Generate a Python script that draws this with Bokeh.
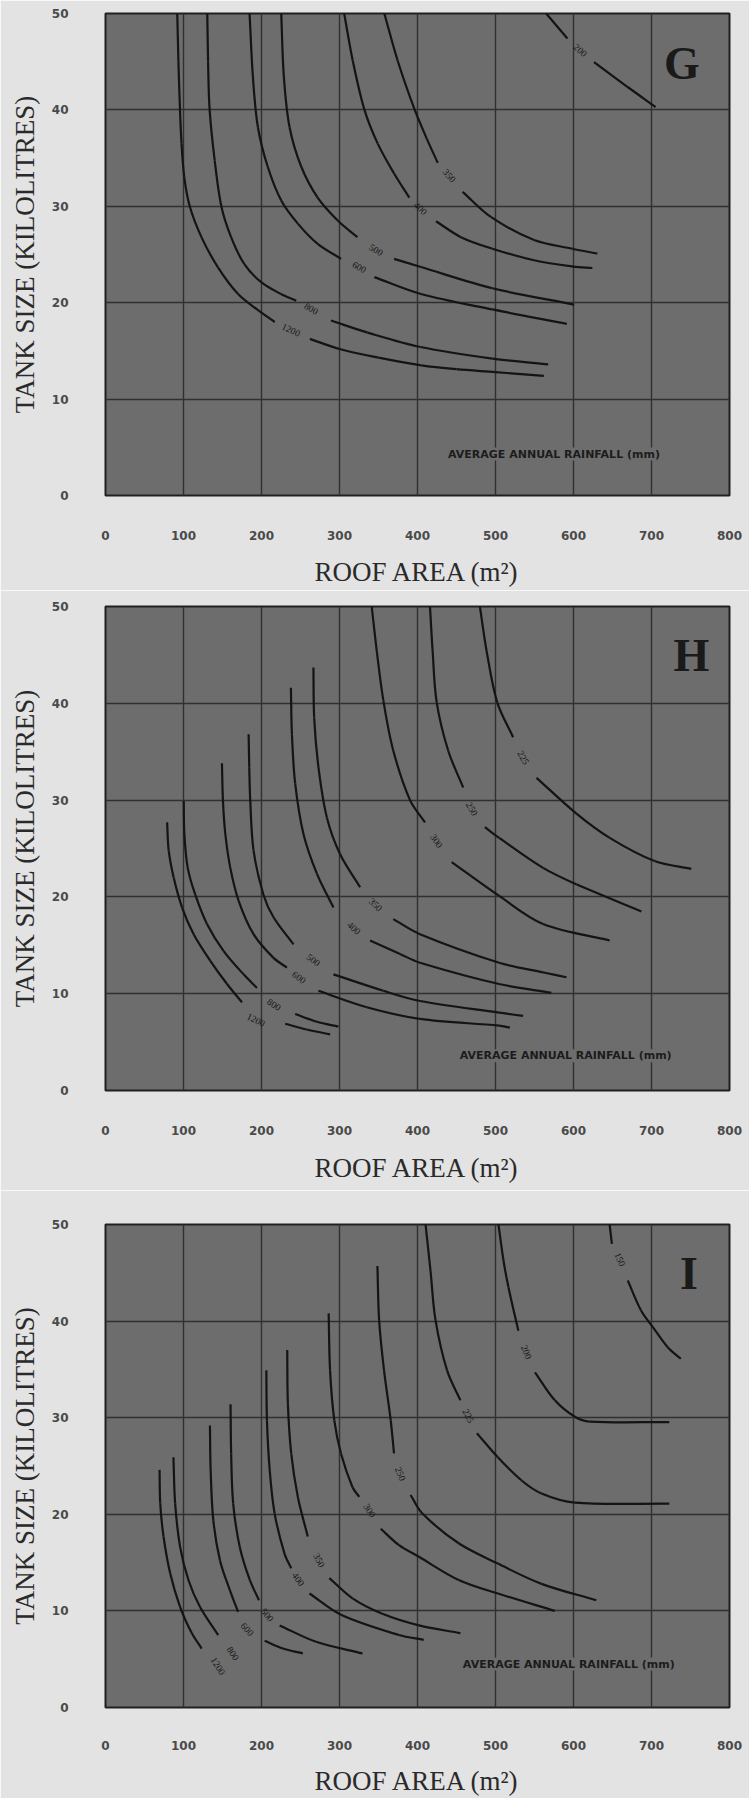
import numpy as np
from bokeh.plotting import figure
from bokeh.models import ColumnDataSource, LabelSet, Label, FixedTicker, Range1d
from bokeh.layouts import column
from bokeh.embed import file_html
from bokeh.resources import INLINE

nan = float("nan")

# ---------------- tick labels ----------------
x_ticks = [0, 100, 200, 300, 400, 500, 600, 700, 800]
y_ticks = [0, 10, 20, 30, 40, 50]

# ---------------- panel G ----------------
g_rain = ["1200", "800", "600", "500", "400", "350", "200"]
g1200_x = [92, 93.5, 95.5, 97.5, 101, 108, 123, 144, 170, 196, 217, nan, 262, 300, 350, 405, 450, 500, 562]
g1200_y = [50, 45, 40, 36.5, 33, 30, 26.8, 23.7, 20.9, 19.2, 18.0, nan, 16.25, 15.2, 14.3, 13.5, 13.1, 12.8, 12.4]
g800_x = [130.5, 131.5, 133.5, 140, 148.5, 161, 178, 200, 225, 244.5, nan, 289, 336, 404, 496, 567.5]
g800_y = [50, 45, 40, 34.75, 30, 26.8, 24, 22.1, 20.9, 20.2, nan, 18.15, 16.9, 15.4, 14.2, 13.6]
g600_x = [184.7, 189, 195.4, 208, 225.3, 246.6, 272, 302, nan, 344.7, 404.5, 496, 591.4]
g600_y = [50, 43.4, 38.2, 34.1, 30.6, 28.2, 26.1, 24.55, nan, 22.65, 20.9, 19.3, 17.8]
g500_x = [225.3, 228.7, 236, 251, 272, 298, 323, nan, 370, 404.5, 496, 600.7]
g500_y = [50, 43.4, 38.2, 34.1, 30.9, 28.5, 26.8, nan, 24.55, 23.7, 21.5, 19.8]
g400_x = [306, 317, 332, 349, 370, 389.5, nan, 423.7, 455.7, 496, 549.5, 599.5, 624.2]
g400_y = [50, 45.1, 40, 36.5, 33.4, 30.9, nan, 28.45, 26.8, 25.6, 24.4, 23.75, 23.6]
g350_x = [357.5, 374.6, 396, 412, 426, nan, 457.8, 494, 549.5, 598.6, 630.6]
g350_y = [50, 45.1, 40.1, 37, 34.5, nan, 31.5, 28.9, 26.5, 25.6, 25.1]
g200_x = [565, 592.3, nan, 626.3, 669, 705.3]
g200_y = [50, 47.4, nan, 44.95, 42.4, 40.3]
g_label_x = [238, 264, 325.5, 347, 404, 441, 609]
g_label_y = [17.2, 19.4, 23.7, 25.5, 29.8, 33.2, 46.2]

# ---------------- panel H ----------------
h_rain = ["1200", "800", "600", "500", "400", "350", "300", "250", "225"]
h1200_x = [79, 81, 87.4, 98.2, 113, 134.4, 155.8, 175, nan, 230.4, 258, 288]
h1200_y = [27.7, 24.8, 22.0, 18.9, 16.15, 13.4, 11.0, 9.1, nan, 6.9, 6.3, 5.8]
h800_x = [100.3, 101.1, 105.4, 115.2, 130.1, 151.5, 177, 194.2, nan, 243.2, 271, 298.6]
h800_y = [29.9, 26.5, 23.0, 20.2, 17.2, 14.4, 12.0, 10.6, nan, 7.9, 7.1, 6.6]
h600_x = [149.3, 150.6, 153.6, 160, 170.7, 189.8, 215.4, 232.6, nan, 273, 335, 403, 504.7, 518.4]
h600_y = [33.8, 29.9, 26.5, 23.0, 19.6, 16.15, 13.7, 12.7, nan, 10.3, 8.6, 7.4, 6.7, 6.5]
h500_x = [183.5, 184.3, 185.6, 189.8, 202.6, 215.4, 241, nan, 292.2, 356.2, 403.2, 504.7, 535.4]
h500_y = [36.8, 33.4, 29.9, 24.8, 20.2, 17.9, 15.1, nan, 12.0, 10.3, 9.25, 8.05, 7.7]
h400_x = [237.7, 239, 243.2, 253.8, 271, 292.2, nan, 339.2, 377.6, 403.2, 504.7, 571.7]
h400_y = [41.6, 36.8, 31.7, 26.5, 22.4, 18.9, nan, 15.5, 14.1, 13.2, 11.0, 10.1]
h350_x = [266.6, 267.5, 273, 283.8, 300.8, 326.4, nan, 369, 403.2, 504.7, 561, 591]
h350_y = [43.7, 38.55, 33.4, 28.2, 24.4, 21.0, nan, 17.7, 16.15, 13.2, 12.2, 11.7]
h300_x = [341.3, 347.8, 356.2, 369, 390.4, 409.6, nan, 443.8, 504.7, 561, 646.4]
h300_y = [50, 45.4, 40.3, 35.1, 30.0, 27.7, nan, 23.6, 20.1, 17.2, 15.5]
h250_x = [416, 419.4, 424.6, 439.4, 458.6, nan, 486.4, 504.7, 561, 603.8, 687]
h250_y = [50, 45.4, 40.1, 35.1, 31.3, nan, 27.2, 26.1, 23.0, 21.3, 18.5]
h225_x = [480, 488.6, 502.2, 522.6, nan, 552.6, 603.8, 646.4, 704, 751]
h225_y = [50, 45.4, 40.1, 36.5, nan, 32.3, 28.6, 26.1, 23.7, 22.9]
h_label_x = [192.9, 216.3, 248.3, 266.6, 318.7, 346.5, 424.6, 470, 536]
h_label_y = [7.3, 8.9, 11.7, 13.5, 16.8, 19.2, 25.8, 29.1, 34.4]

# ---------------- panel I ----------------
i_rain = ["1200", "800", "600", "500", "400", "350", "300", "250", "225", "200", "150"]
i1200_x = [69.3, 70.2, 74.4, 82.9, 95.7, 110.6, 123.3]
i1200_y = [24.6, 21.1, 17.7, 13.9, 10.4, 7.7, 6.1]
i800_x = [87.1, 89.3, 95.7, 106.3, 121.2, 144.5]
i800_y = [25.9, 21.1, 16.6, 13.2, 10.4, 7.5]
i600_x = [133.9, 134.8, 138.2, 146.7, 159.4, 170, nan, 204, 227.4, 253]
i600_y = [29.2, 24.6, 19.4, 15.25, 12.15, 9.9, nan, 6.9, 6.1, 5.6]
i500_x = [160.3, 161.1, 163.7, 172.2, 185, 196.8, nan, 223.2, 270, 329.5]
i500_y = [31.4, 26.3, 21.1, 16.6, 13.2, 11.1, nan, 8.5, 6.8, 5.6]
i400_x = [206.2, 207, 210.5, 216.8, 229.6, 238.1, nan, 261.5, 301.9, 376.3, 408]
i400_y = [34.9, 29.7, 24.6, 20.1, 15.9, 14.4, nan, 11.8, 9.6, 7.5, 7.0]
i350_x = [233, 233.8, 238.1, 246.6, 259.3, nan, 287, 316.7, 355, 401.8, 455]
i350_y = [37.0, 31.5, 26.3, 21.8, 17.7, nan, 13.4, 11.3, 9.7, 8.5, 7.7]
i300_x = [286.1, 287.9, 293.4, 301.9, 316.7, 325.3, nan, 352.9, 376.3, 401.8, 452.8, 503, 576]
i300_y = [40.8, 34.9, 29.7, 26.3, 22.8, 21.8, nan, 18.5, 16.8, 15.6, 13.2, 11.8, 10.0]
i250_x = [348.6, 350.8, 357.1, 365.7, 369.9, nan, 391.2, 406, 452.8, 503, 559, 629.2]
i250_y = [45.7, 40.1, 34.9, 29.7, 26.3, nan, 22.0, 20.1, 17.0, 14.9, 12.8, 11.1]
i225_x = [410.3, 416.7, 423.1, 437.9, 455, nan, 476.2, 503, 533.5, 559, 601.7, 722.8]
i225_y = [50, 45.2, 40.1, 34.9, 31.8, nan, 28.4, 25.9, 23.5, 22.15, 21.2, 21.1]
i200_x = [503.8, 510.2, 516.6, 529.3, nan, 550.6, 576.1, 601.7, 620.8, 722.8]
i200_y = [50, 46.3, 43.5, 39.0, nan, 34.7, 31.8, 30.1, 29.6, 29.55]
i150_x = [646.3, 649.2, nan, 669.6, 686.6, 701.5, 720.7, 737.6]
i150_y = [50, 48.0, nan, 44.2, 41.1, 39.4, 37.3, 36.1]
i_label_x = [144.5, 163.6, 182, 207.5, 247.4, 274.2, 338.9, 378.4, 465.6, 540, 659.9]
i_label_y = [4.3, 5.6, 8.1, 9.6, 13.3, 15.25, 20.4, 24.2, 30.2, 36.8, 46.4]

# ---------------- styling ----------------
PLOT_BG = "#6d6d6d"
PAGE_BG = "#e3e3e3"
INK = "#141414"
GRID = "#303030"
NOTE = "AVERAGE ANNUAL RAINFALL (mm)"
X_TITLE = "ROOF AREA (m\u00b2)"
Y_TITLE = "TANK SIZE (KILOLITRES)"


def label_angles(cx_list, cy_list, sx, sy):
    out = []
    for cx, cy in zip(cx_list, cy_list):
        xs = np.asarray(cx, float)
        ys = np.asarray(cy, float)
        gap = np.where(np.isnan(xs))[0]
        if len(gap):
            k = gap[0]
            x0, y0, x1, y1 = xs[k - 1], ys[k - 1], xs[k + 1], ys[k + 1]
        else:
            x0, y0, x1, y1 = xs[-2], ys[-2], xs[-1], ys[-1]
        out.append(float(np.arctan2((y1 - y0) * sy, (x1 - x0) * sx)))
    return out


def smooth_segments(cx_list, cy_list, sx, sy):
    """Cubic Bezier pieces that pass through every read point (drawing only)."""
    cols = {k: [] for k in ("x0", "y0", "x1", "y1", "cx0", "cy0", "cx1", "cy1")}
    for cx, cy in zip(cx_list, cy_list):
        xs = np.asarray(cx, float)
        ys = np.asarray(cy, float)
        brk = np.where(np.isnan(xs))[0]
        starts = [0] + list(brk + 1)
        ends = list(brk) + [len(xs)]
        for s, e in zip(starts, ends):
            P = np.column_stack([xs[s:e] * sx, ys[s:e] * sy])
            n = len(P)
            for i in range(n - 1):
                p0 = P[i - 1] if i > 0 else P[i]
                p1, p2 = P[i], P[i + 1]
                p3 = P[i + 2] if i + 2 < n else P[i + 1]
                d01 = np.hypot(*(p1 - p0))
                d12 = np.hypot(*(p2 - p1))
                d23 = np.hypot(*(p3 - p2))
                c1 = p1 + (p2 - p0) * (d12 / (d12 + d01)) / 3.0
                c2 = p2 - (p3 - p1) * (d12 / (d12 + d23)) / 3.0
                cols["x0"].append(p1[0] / sx); cols["y0"].append(p1[1] / sy)
                cols["x1"].append(p2[0] / sx); cols["y1"].append(p2[1] / sy)
                cols["cx0"].append(c1[0] / sx); cols["cy0"].append(c1[1] / sy)
                cols["cx1"].append(c2[0] / sx); cols["cy1"].append(c2[1] / sy)
    return cols


def panel(letter, letter_xy, note_xy, cx_list, cy_list, rain, lab_x, lab_y,
          height, left, right, top, bottom, tick_off_x, title_off_x):
    p = figure(width=749, height=height, x_range=Range1d(0, 800), y_range=Range1d(0, 50),
               output_backend="svg", toolbar_location=None,
               min_border_left=left, min_border_right=right,
               min_border_top=top, min_border_bottom=bottom,
               background_fill_color=PLOT_BG, border_fill_color=PAGE_BG,
               outline_line_color="#202020", outline_line_width=2)
    p.xaxis.ticker = FixedTicker(ticks=x_ticks)
    p.yaxis.ticker = FixedTicker(ticks=y_ticks)
    for ax in (p.xaxis[0], p.yaxis[0]):
        ax.axis_line_color = None
        ax.major_tick_line_color = None
        ax.minor_tick_line_color = None
        ax.major_label_text_font = "DejaVu Sans"
        ax.major_label_text_font_size = "12px"
        ax.major_label_text_font_style = "bold"
        ax.major_label_text_color = "#4a4a4a"
        ax.axis_label_text_font = "Liberation Serif"
        ax.axis_label_text_font_size = "27px"
        ax.axis_label_text_font_style = "normal"
        ax.axis_label_text_color = "#2a2a2a"
    p.xaxis.axis_label = X_TITLE
    p.yaxis.axis_label = Y_TITLE
    p.xaxis.major_label_standoff = tick_off_x
    p.xaxis.axis_label_standoff = title_off_x
    p.yaxis.major_label_standoff = 31
    p.yaxis.axis_label_standoff = 9
    for g in (p.xgrid[0], p.ygrid[0]):
        g.grid_line_color = GRID
        g.grid_line_width = 1.4

    fw = 749 - left - right
    fh = height - top - bottom
    sx, sy = fw / 800.0, fh / 50.0

    seg = ColumnDataSource(data=smooth_segments(cx_list, cy_list, sx, sy))
    p.bezier(x0="x0", y0="y0", x1="x1", y1="y1", cx0="cx0", cy0="cy0", cx1="cx1", cy1="cy1",
             source=seg, line_color=INK, line_width=2.2)

    ang = label_angles(cx_list, cy_list, sx, sy)
    src = ColumnDataSource(data=dict(x=lab_x, y=lab_y, text=rain, angle=ang))
    p.add_layout(LabelSet(x="x", y="y", text="text", angle="angle", source=src,
                          text_align="center", text_baseline="middle",
                          text_font="DejaVu Sans", text_font_size="9.5px",
                          text_color=INK))

    p.add_layout(Label(x=note_xy[0], y=note_xy[1], text=NOTE, text_align="center",
                       text_baseline="middle", text_font="DejaVu Sans",
                       text_font_size="11px", text_font_style="bold",
                       text_color="#1c1c1c", background_fill_color=PLOT_BG,
                       background_fill_alpha=1.0))
    p.add_layout(Label(x=letter_xy[0], y=letter_xy[1], text=letter, text_align="center",
                       text_baseline="middle", text_font="Liberation Serif",
                       text_font_size="46px", text_font_style="bold",
                       text_color="#1a1a1a"))
    return p


pg = panel("G", (739, 44.8), (575, 4.3),
           [g1200_x, g800_x, g600_x, g500_x, g400_x, g350_x, g200_x],
           [g1200_y, g800_y, g600_y, g500_y, g400_y, g350_y, g200_y],
           g_rain, g_label_x, g_label_y,
           height=590, left=104, right=20, top=13, bottom=95, tick_off_x=29, title_off_x=14)

ph = panel("H", (751, 44.9), (590, 3.6),
           [h1200_x, h800_x, h600_x, h500_x, h400_x, h350_x, h300_x, h250_x, h225_x],
           [h1200_y, h800_y, h600_y, h500_y, h400_y, h350_y, h300_y, h250_y, h225_y],
           h_rain, h_label_x, h_label_y,
           height=600, left=105, right=19, top=16, bottom=100, tick_off_x=29, title_off_x=15)

pi = panel("I", (748, 44.9), (594, 4.5),
           [i1200_x, i800_x, i600_x, i500_x, i400_x, i350_x, i300_x, i250_x, i225_x, i200_x, i150_x],
           [i1200_y, i800_y, i600_y, i500_y, i400_y, i350_y, i300_y, i250_y, i225_y, i200_y, i150_y],
           i_rain, i_label_x, i_label_y,
           height=608, left=105, right=17, top=34, bottom=90, tick_off_x=27, title_off_x=13)

layout = column(pg, ph, pi, spacing=0)

with open("out.html", "w") as f:
    f.write(file_html(layout, INLINE))
